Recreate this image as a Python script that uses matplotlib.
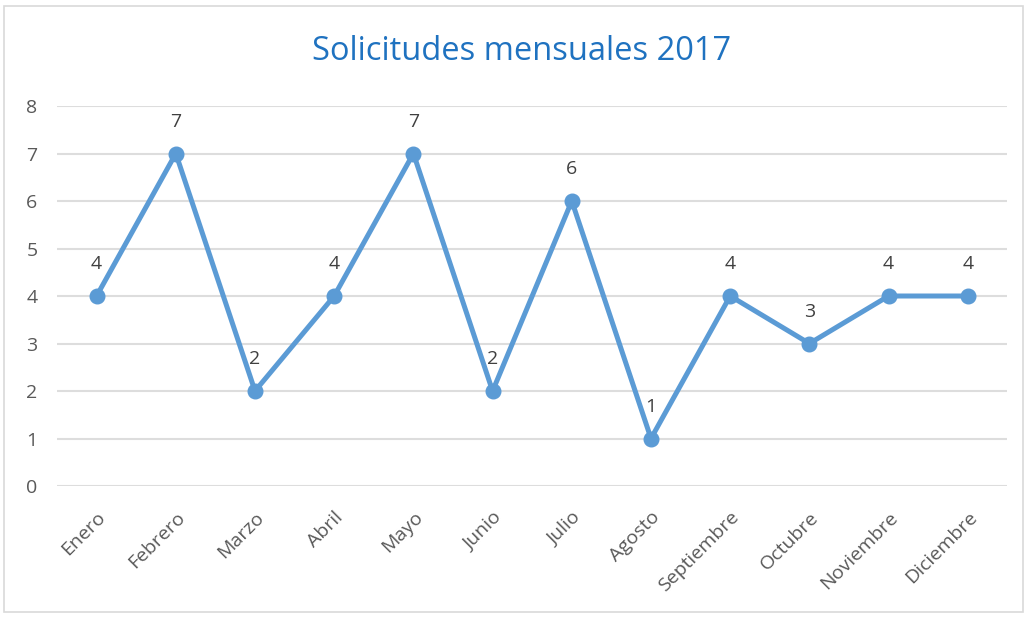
import matplotlib
matplotlib.use('Agg')
import matplotlib.pyplot as plt
from matplotlib.patches import Rectangle

# ---------- data ----------
meses = ['Enero', 'Febrero', 'Marzo', 'Abril', 'Mayo', 'Junio', 'Julio',
         'Agosto', 'Septiembre', 'Octubre', 'Noviembre', 'Diciembre']
solicitudes = [4, 7, 2, 4, 7, 2, 6, 1, 4, 3, 4, 4]

# ---------- style ----------
LINE = '#5B9BD5'
TITLE = '#1F72C0'
GRID = '#DDDDDD'
TICK = '#595959'
LABEL = '#404040'
FONT = ['Open Sans', 'DejaVu Sans']

fig = plt.figure(figsize=(10.29, 6.17), dpi=100, facecolor='white')
ax = fig.add_axes([0.0554, 0.2123, 0.9236, 0.6159])

x = list(range(len(meses)))
ax.plot(x, solicitudes, color=LINE, lw=3.6, marker='o', markersize=10.5,
        solid_capstyle='round', zorder=3, clip_on=False)

for xi, v in zip(x, solicitudes):
    ax.annotate(str(v), (xi, v), xytext=(0, 23), textcoords='offset points',
                ha='center', va='center', fontsize=14, color=LABEL, family=FONT)

ax.set_xlim(-0.5, len(meses) - 0.5)
ax.set_ylim(0, 8)
ax.set_yticks(range(0, 9))
ax.yaxis.grid(True, color=GRID, lw=1.5)
ax.set_axisbelow(True)
ax.set_xticks(x)
ax.set_xticklabels(meses, rotation=45, ha='right', rotation_mode='anchor',
                   fontsize=14, color=TICK, family=FONT)
for lab in ax.get_yticklabels():
    lab.set_fontsize(14)
    lab.set_color(TICK)
    lab.set_family(FONT)
ax.tick_params(axis='both', length=0)
ax.tick_params(axis='x', pad=16)
ax.tick_params(axis='y', pad=14)
for s in ax.spines.values():
    s.set_visible(False)

fig.text(0.507, 0.917, 'Solicitudes mensuales 2017', ha='center', va='center',
         fontsize=23.5, color=TITLE, family=FONT)

# chart frame
fig.patches.append(Rectangle((0.004, 0.008), 0.99, 0.982, transform=fig.transFigure,
                             fill=False, edgecolor='#D9D9D9', lw=1.2))

fig.savefig('out.png', dpi=100, facecolor='white')
